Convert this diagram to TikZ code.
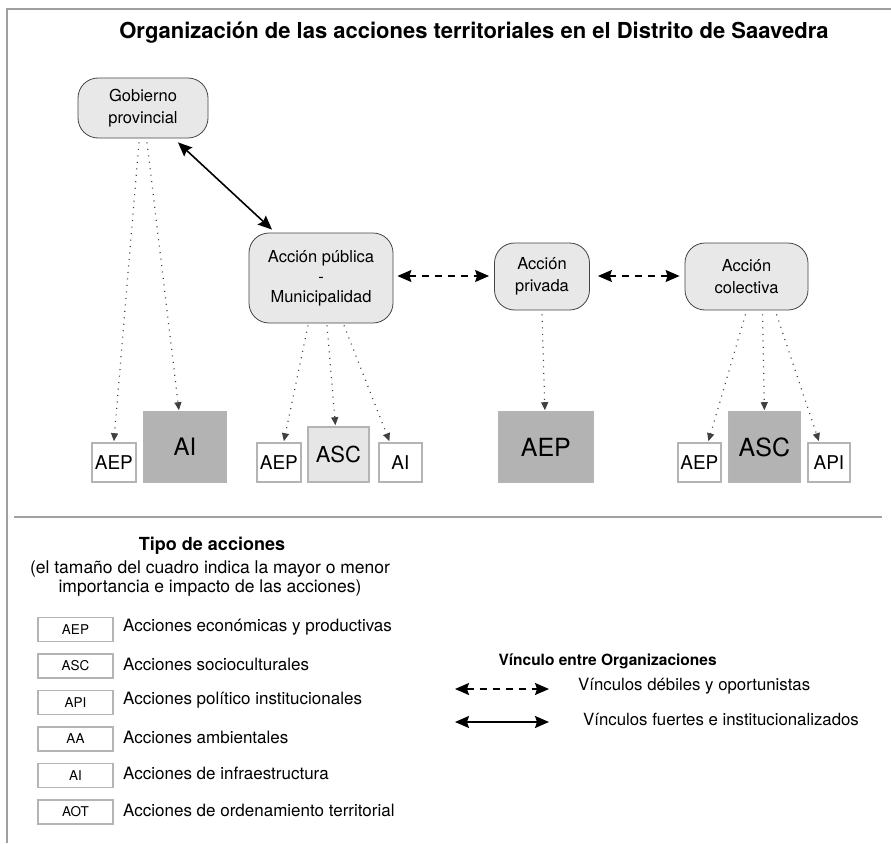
\documentclass[tikz,border=0pt]{standalone}
\usepackage{fontspec}
\setmainfont{TeX Gyre Heros}
\usetikzlibrary{arrows.meta,calc}
\definecolor{nodefill}{HTML}{E8E8E8}
\definecolor{nodeline}{HTML}{444444}
\definecolor{boxline}{HTML}{B4B4B4}
\definecolor{darkbox}{HTML}{B3B3B3}
\definecolor{lightbox}{HTML}{E6E6E6}
\definecolor{frameline}{HTML}{A0A0A0}
\tikzset{
  actor/.style={draw=nodeline, fill=nodefill, line width=0.8pt, rounded corners=20pt, align=center, inner sep=0pt, font=\fontsize{16.5}{22}\selectfont},
  abox/.style={draw=boxline, line width=1.8pt, inner sep=0pt, anchor=south west},
  dotarrow/.style={draw=black!75, line width=1.2pt, dash pattern=on 1pt off 5.5pt, -{Triangle[length=8pt,width=7pt]}},
  strongarrow/.style={line width=1.6pt, {Stealth[length=14pt,width=12pt,inset=2pt]}-{Stealth[length=14pt,width=12pt,inset=2pt]}},
  weakarrow/.style={strongarrow, dash pattern=on 7pt off 6pt},
  legbox/.style={draw=boxline, line width=1.4pt, minimum width=75pt, minimum height=24pt, inner sep=0pt, font=\fontsize{13.5}{15}\selectfont},
  legtext/.style={anchor=west, inner sep=0pt, font=\fontsize{17}{19}\selectfont},
}
\begin{document}
\begin{tikzpicture}[x=1pt,y=-1pt]
\useasboundingbox (0,0) rectangle (891,843);
% frame
\draw[frameline, line width=1.5pt] (891,9) -- (7,9) -- (7,843);
\draw[frameline, line width=1.8pt] (14,517) -- (882,517);
% title
\node[font=\bfseries\fontsize{22}{24}\selectfont] (title) at (474,33) {Organización de las acciones territoriales en el Distrito de Saavedra};
% actors
\node[actor, minimum width=130pt, minimum height=60pt] (gob) at (143,108) {Gobierno\\provincial};
\node[actor, minimum width=144pt, minimum height=90pt, font=\fontsize{16.5}{20}\selectfont] (pub) at (321,278) {Acción pública\\-\\Municipalidad};
\node[actor, minimum width=95pt, minimum height=67pt] (priv) at (542,276.5) {Acción\\privada};
\node[actor, minimum width=123pt, minimum height=67pt] (col) at (746.5,276.5) {Acción\\colectiva};
% boxes
\node[abox, fill=white, minimum width=44pt, minimum height=39pt, font=\fontsize{19}{21}\selectfont] (aep1) at (91,483) {AEP};
\node[abox, fill=darkbox, minimum width=82pt, minimum height=70pt, font=\fontsize{24}{26}\selectfont] (ai1) at (143,483) {AI};
\node[abox, fill=white, minimum width=44pt, minimum height=39pt, font=\fontsize{19}{21}\selectfont] (aep2) at (256,483) {AEP};
\node[abox, fill=lightbox, minimum width=61pt, minimum height=55pt, font=\fontsize{22}{24}\selectfont] (asc2) at (307,483) {ASC};
\node[abox, fill=white, minimum width=43pt, minimum height=39pt, font=\fontsize{19}{21}\selectfont] (ai2) at (378,483) {AI};
\node[abox, fill=darkbox, minimum width=94pt, minimum height=70pt, font=\fontsize{25}{27}\selectfont] (aep3) at (498,483) {AEP};
\node[abox, fill=white, minimum width=43pt, minimum height=39pt, font=\fontsize{19}{21}\selectfont] (aep4) at (677,483) {AEP};
\node[abox, fill=darkbox, minimum width=71pt, minimum height=70pt, font=\fontsize{25}{27}\selectfont] (asc4) at (728,483) {ASC};
\node[abox, fill=white, minimum width=42pt, minimum height=39pt, font=\fontsize{19}{21}\selectfont] (api4) at (807,483) {API};
% links between actors
\draw[strongarrow] ($(gob.south)+(35,4)$) -- ($(pub.north)+(-49,-3)$);
\draw[weakarrow] ($(pub.east)+(4,-2)$) -- ($(priv.west)+(-5,-0.5)$);
\draw[weakarrow] ($(priv.east)+(8,-0.5)$) -- ($(col.west)+(-5,-0.5)$);
% dotted
\draw[dotarrow] ($(gob.south)+(-4,4)$) -- ($(aep1.north)+(0,-1)$);
\draw[dotarrow] ($(gob.south)+(4,4)$) -- ($(ai1.north)+(-6,-1)$);
\draw[dotarrow] ($(pub.south)+(-13,2)$) -- ($(aep2.north)+(5,-1)$);
\draw[dotarrow] ($(pub.south)+(6,2)$) -- ($(asc2.north)+(-3,-1)$);
\draw[dotarrow] ($(pub.south)+(23,2)$) -- ($(ai2.north)+(-11,-1)$);
\draw[dotarrow] ($(priv.south)+(0,4)$) -- ($(aep3.north)+(-1,-1)$);
\draw[dotarrow] ($(col.south)+(-1,4)$) -- ($(aep4.north)+(9,-1)$);
\draw[dotarrow] ($(col.south)+(16,4)$) -- ($(asc4.north)+(0,-1)$);
\draw[dotarrow] ($(col.south)+(30,4)$) -- ($(api4.north)+(-10,-1)$);
% legend: types
\node[font=\bfseries\fontsize{18}{20}\selectfont] (ltitle) at (212,546) {Tipo de acciones};
\node[align=center, font=\fontsize{17.5}{19}\selectfont] (lnote) at (210,579) {(el tamaño del cuadro indica la mayor o menor\\importancia e impacto de las acciones)};
\node[legbox] (l1) at (75.5,629.5) {AEP};
\node[legbox] (l2) at (75.5,666) {ASC};
\node[legbox] (l3) at (75.5,702.5) {API};
\node[legbox] (l4) at (75.5,739) {AA};
\node[legbox] (l5) at (75.5,775.5) {AI};
\node[legbox] (l6) at (75.5,812) {AOT};
\node[legtext] (t1) at (123,627.5) {Acciones económicas y productivas};
\node[legtext] (t2) at (123,664) {Acciones socioculturales};
\node[legtext] (t3) at (123,700.5) {Acciones político institucionales};
\node[legtext] (t4) at (123,737) {Acciones ambientales};
\node[legtext] (t5) at (123,773.5) {Acciones de infraestructura};
\node[legtext] (t6) at (123,810) {Acciones de ordenamiento territorial};
% legend: links
\node[font=\bfseries\fontsize{15.5}{18}\selectfont, anchor=west] (vtitle) at (495,661) {Vínculo entre Organizaciones};
\coordinate (d1) at (455,689);
\coordinate (d2) at (549,689);
\coordinate (s1) at (455,722);
\coordinate (s2) at (549,722);
\draw[weakarrow] (d1) -- (d2);
\draw[strongarrow] (s1) -- (s2);
\node[legtext, font=\fontsize{16.8}{18}\selectfont] (vt1) at (578,686) {Vínculos débiles y oportunistas};
\node[legtext, font=\fontsize{16.8}{18}\selectfont] (vt2) at (583,719) {Vínculos fuertes e institucionalizados};
\end{tikzpicture}
\end{document}
